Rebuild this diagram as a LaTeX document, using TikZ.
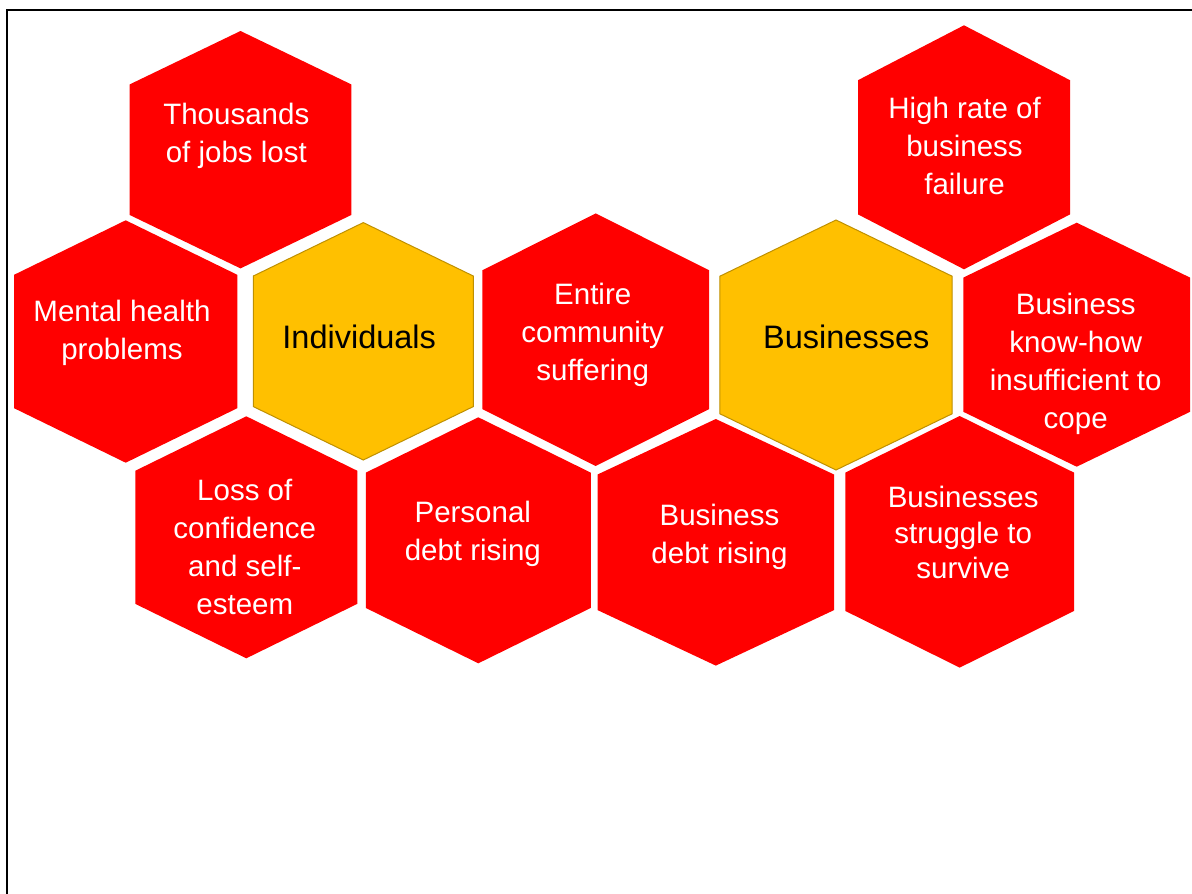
\documentclass[tikz,border=0pt]{standalone}
\usepackage{fontspec}
\setmainfont{Liberation Sans}
\definecolor{hexred}{HTML}{FF0000}
\definecolor{hexgold}{HTML}{FFC000}
\definecolor{goldline}{HTML}{BF9000}

\begin{document}
\begin{tikzpicture}[x=1pt, y=-1pt,
    effect/.style={fill=hexred},
    group/.style={fill=hexgold, draw=goldline, line width=1pt},
    effecttext/.style={text=white, align=center, inner sep=0pt,
      font=\fontsize{29.5}{38}\selectfont,
      execute at begin node=\strut, execute at end node=\strut},
    grouptext/.style={effecttext, text=black,
      font=\fontsize{32.5}{40}\selectfont}]
  \useasboundingbox (0,0) rectangle (1192,894);
  \draw[line width=2pt] (1192,10) -- (7,10) -- (7,894);

  % hexagons: name/centre x/centre y/half width/half height/style
  \foreach \n/\cx/\cy/\w/\h/\s in {
      thouhex/240.5/149.7/110.8/118.7/effect,
      menthex/125.7/341.5/111.7/121.2/effect,
      indihex/363.3/341.3/110/118.7/group,
      commhex/595.7/339.7/113.3/126.3/effect,
      busihex/836/345/116.2/125/group,
      failhex/964/147.3/106/122/effect,
      knowhex/1076.7/344.7/113.4/122/effect,
      losshex/246.3/537.3/111/121/effect,
      pershex/478.3/540.3/112.5/123/effect,
      bdebhex/715.8/542.3/118.2/123.3/effect,
      strghex/959.7/541.8/114.3/125.8/effect}{
    \path[\s] (\cx,\cy) ++(0,-\h) -- ++(\w,0.45*\h) -- ++(0,1.1*\h)
      -- ++(-\w,0.45*\h) -- ++(-\w,-0.45*\h) -- ++(0,-1.1*\h) -- cycle;
    \coordinate (\n) at (\cx,\cy);
  }

  % labels
  \node[effecttext] (thou) at (236.3,139) {Thousands\\of jobs lost};
  \node[effecttext] (ment) at (122,335.2) {Mental health\\problems};
  \node[grouptext] (indi) at (359.2,340.3) {Individuals};
  \node[effecttext] (comm) at (592.7,337.7) {Entire\\community\\suffering};
  \node[grouptext] (busi) at (846.3,340.3) {Businesses};
  \node[effecttext] (fail) at (964.5,151.8) {High rate of\\business\\failure};
  \node[effecttext] (know) at (1075.7,367) {Business\\know-how\\insufficient to\\cope};
  \node[effecttext] (loss) at (244.8,552.3) {Loss of\\confidence\\and self-\\esteem};
  \node[effecttext] (pers) at (472.8,536.2) {Personal\\debt rising};
  \node[effecttext] (bdeb) at (719.5,539.7) {Business\\debt rising};
  \node[effecttext, font=\fontsize{29.5}{35.5}\selectfont] (strg) at (963.2,537.7)
    {Businesses\\struggle to\\survive};
\end{tikzpicture}
\end{document}
